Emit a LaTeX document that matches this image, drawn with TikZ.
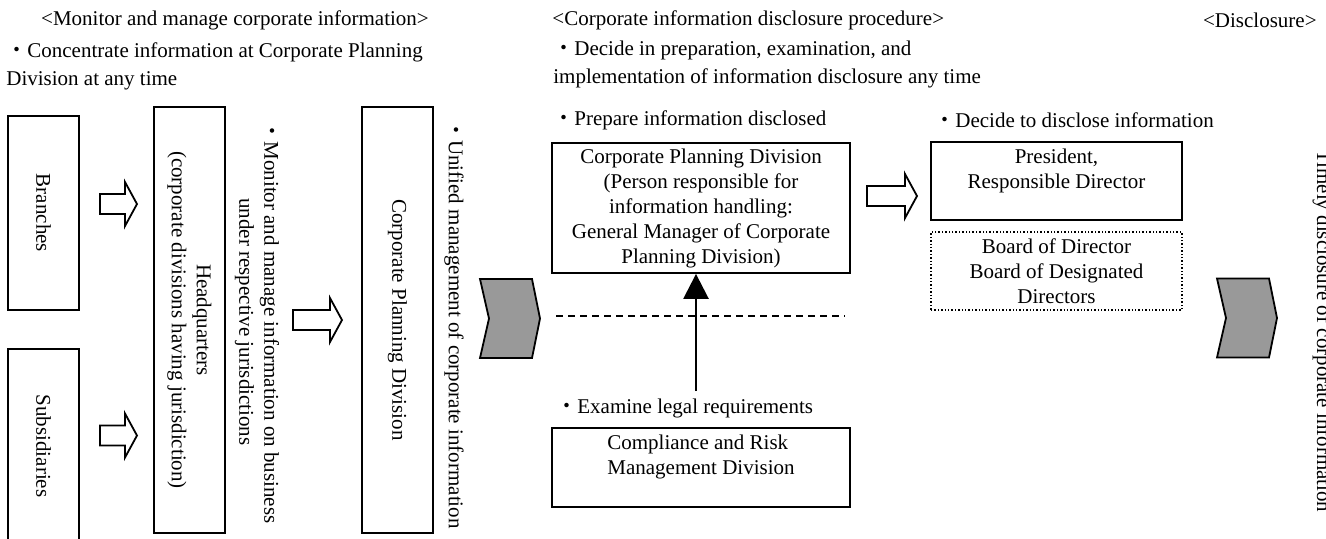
\documentclass[tikz,border=0pt]{standalone}
\usepackage{fontspec}
\setmainfont{Liberation Serif}
\newfontfamily\cjk{Noto Sans CJK JP}
\usetikzlibrary{arrows.meta}
\definecolor{chevronGray}{HTML}{999999}
\newcommand{\dotMark}[0]{{\cjk ・}}
\newcommand{\hollowArrow}[2]{\draw[line width=0.9pt, fill=white] (#1) ++(-#2/2,-10) -- ++(#2-12,0) -- ++(0,-12) -- ++(12,22) -- ++(-12,22) -- ++(0,-12) -- ++(-#2+12,0) -- cycle;}
\newcommand{\grayChevron}[1]{\draw[line width=0.9pt, fill=chevronGray] (#1) ++(-30,-39.5) -- ++(52,0) -- ++(8,39.5) -- ++(-8,39.5) -- ++(-52,0) -- ++(9,-39.5) -- cycle;}

\begin{document}
\begin{tikzpicture}[x=0.5pt, y=-0.5pt, font=\fontsize{10.5}{12.5}\selectfont]
  \tikzset{box/.style={draw, line width=0.9pt, align=center, inner sep=0pt},
           vbox/.style={box, rotate=-90, minimum width=213pt, minimum height=35.5pt},
           note/.style={align=left, inner sep=0pt}}
  \useasboundingbox (0,0) rectangle (1326,538);
  % monitor and manage
  \node[note] (monHead) at (235,20) {<Monitor and manage corporate information>};
  \node[note, anchor=west] (concNote) at (6,66) {\dotMark Concentrate information at Corporate Planning\\[1.5pt]Division at any time};
  \node[box, rotate=-90, minimum width=97pt, minimum height=35.5pt] (branches) at (43.5,213) {Branches};
  \node[box, rotate=-90, minimum width=97pt, minimum height=35.5pt] (subsid) at (43.5,446) {Subsidiaries};
  \node[vbox] (hq) at (189.5,320) {Headquarters\\(corporate divisions having jurisdiction)};
  \node[note, rotate=-90, align=center] (monNote) at (257,322) {\dotMark Monitor and manage information on business\\under respective jurisdictions};
  \node[vbox] (cpdV) at (397.5,320) {Corporate Planning Division};
  \node[note, rotate=-90] (uniNote) at (454,324) {\dotMark Unified management of corporate information};
  \coordinate (branchArrow) at (118.5,204);
  \coordinate (subsidArrow) at (118.5,435.5);
  \coordinate (hqArrow) at (317.5,320);
  \hollowArrow{branchArrow}{37}
  \hollowArrow{subsidArrow}{37}
  \hollowArrow{hqArrow}{49}
  \coordinate (chevronA) at (510,318.5);
  \grayChevron{chevronA}
  % disclosure procedure
  \node[note, anchor=west] (procHead) at (552,20) {<Corporate information disclosure procedure>};
  \node[note, anchor=west] (decNote) at (553,64) {\dotMark Decide in preparation, examination, and\\[1.5pt]implementation of information disclosure any time};
  \node[note, anchor=west] (prepNote) at (553,120) {\dotMark Prepare information disclosed};
  \node[box, minimum width=149pt, minimum height=65pt] (cpd) at (701,208) {Corporate Planning Division\\(Person responsible for\\information handling:\\General Manager of Corporate\\Planning Division)};
  \coordinate (dashL) at (556,316);
  \coordinate (dashR) at (845,316);
  \draw[line width=0.8pt, dash pattern=on 3.5pt off 2.5pt] (dashL) -- (dashR);
  \coordinate (legalTail) at (696,391);
  \draw[-{Triangle[width=12.5pt,length=12.5pt]}, line width=1.3pt] (legalTail) -- (legalTail |- cpd.south);
  \node[note, anchor=west] (legalNote) at (556,408) {\dotMark Examine legal requirements};
  \node[box, align=left, minimum width=149pt, minimum height=39.5pt] (crm) at (701,467.5) {Compliance and Risk\\Management Division\\\mbox{}};
  \coordinate (cpdArrow) at (892,196);
  \hollowArrow{cpdArrow}{50}
  \node[note, anchor=west] (discNote) at (934,120) {\dotMark Decide to disclose information};
  \node[box, minimum width=125.5pt, minimum height=39pt] (pres) at (1056.5,181) {President,\\Responsible Director\\\mbox{}};
  \node[box, line width=0.7pt, dash pattern=on 0.7pt off 1pt, minimum width=125.5pt, minimum height=39pt] (board) at (1056.5,271) {Board of Director\\Board of Designated\\Directors};
  % disclosure
  \node[note, anchor=east] (discHead) at (1317,20) {<Disclosure>};
  \coordinate (chevronB) at (1247,318);
  \grayChevron{chevronB}
  \node[note, rotate=-90, anchor=base west] (timelyNote) at (1317,150) {Timely disclosure of corporate information};
\end{tikzpicture}
\end{document}
